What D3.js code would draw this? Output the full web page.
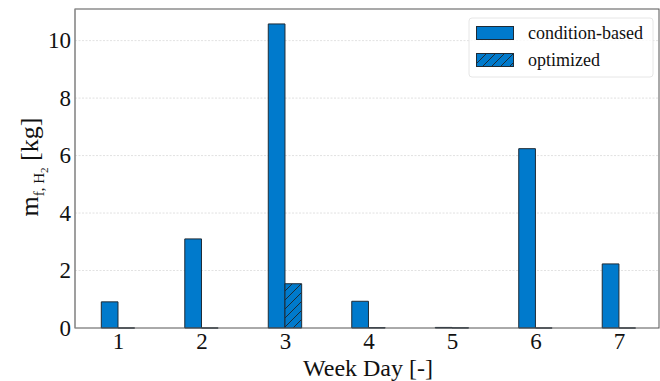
<!DOCTYPE html>
<html>
<head>
<meta charset="utf-8">
<script src="https://cdn.jsdelivr.net/npm/d3@7"></script>
<style>
  body { margin: 0; background: #fff; }
  svg text { font-family: "Liberation Serif", "Times New Roman", "DejaVu Serif", serif; }
</style>
</head>
<body>
<svg id="chart" width="660" height="381"></svg>
<script>
// data
const days = [1, 2, 3, 4, 5, 6, 7];
const conditionBased = [0.91, 3.1, 10.58, 0.93, 0.02, 6.24, 2.23];
const optimized = [0, 0, 1.54, 0.01, 0.005, 0, 0];
const yTicks = [0, 2, 4, 6, 8, 10];
const seriesNames = ["condition-based", "optimized"];

const M = { left: 75, right: 659, top: 9, bottom: 328 };
const BLUE = "#007acc", EDGE = "#1e2b36";
const barW = 0.2;

const svg = d3.select("#chart");

const defs = svg.append("defs");
const pat = defs.append("pattern").attr("id", "hatch").attr("patternUnits", "userSpaceOnUse")
    .attr("width", 9).attr("height", 9);
pat.append("rect").attr("width", 9).attr("height", 9).attr("fill", BLUE);
pat.append("path").attr("d", "M0,9 L9,0 M-2.25,2.25 L2.25,-2.25 M6.75,11.25 L11.25,6.75")
    .attr("stroke", EDGE).attr("stroke-width", 1);

const x = d3.scaleLinear().domain([0.485, 7.48]).range([M.left, M.right]);
const y = d3.scaleLinear().domain([0, 11.1]).range([M.bottom, M.top]);

// grid
svg.append("g").selectAll("line").data(yTicks.slice(1)).join("line")
    .attr("x1", M.left).attr("x2", M.right)
    .attr("y1", d => y(d)).attr("y2", d => y(d))
    .attr("stroke", "#d9d9d9").attr("stroke-width", 0.8).attr("stroke-dasharray", "2,1.5");

function barPath(x0, x1, v) {
    const a = x(x0), b = x(x1), t = y(v), z = y(0);
    return `M${a},${z}L${a},${t}L${b},${t}L${b},${z}Z`;
}

svg.append("g").selectAll("path").data(days).join("path")
    .attr("d", (d, i) => barPath(d - barW, d, conditionBased[i]))
    .attr("fill", BLUE).attr("stroke", EDGE).attr("stroke-width", 1);

svg.append("g").selectAll("path").data(days).join("path")
    .attr("d", (d, i) => barPath(d, d + barW, optimized[i]))
    .attr("fill", "url(#hatch)").attr("stroke", EDGE).attr("stroke-width", 1);

// frame
svg.append("rect").attr("x", M.left).attr("y", M.top)
    .attr("width", M.right - M.left).attr("height", M.bottom - M.top)
    .attr("fill", "none").attr("stroke", "#555").attr("stroke-width", 1);
svg.append("line").attr("x1", M.left).attr("x2", M.left).attr("y1", M.top).attr("y2", M.bottom)
    .attr("stroke", "#999").attr("stroke-width", 1.2);

// axes
const xAxis = svg.append("g").attr("transform", `translate(0,${M.bottom})`)
    .call(d3.axisBottom(x).tickValues(days).tickSize(0).tickPadding(5).tickFormat(d3.format("d")));
xAxis.select(".domain").remove();
xAxis.selectAll("text").attr("font-size", 23).attr("fill", "#111");

const yAxis = svg.append("g").attr("transform", `translate(${M.left},0)`)
    .call(d3.axisLeft(y).tickValues(yTicks).tickSize(0).tickPadding(4).tickFormat(d3.format("d")));
yAxis.select(".domain").remove();
yAxis.selectAll("text").attr("font-size", 23).attr("fill", "#111");
xAxis.attr("font-family", null); yAxis.attr("font-family", null);

svg.append("text").attr("x", 368).attr("y", 376)
    .attr("text-anchor", "middle").attr("font-size", 24).attr("fill", "#111")
    .text("Week Day [-]");

const yl = svg.append("text").attr("transform", "translate(38,167) rotate(-90)")
    .attr("text-anchor", "middle").attr("font-size", 26).attr("fill", "#111");
yl.append("tspan").text("m");
yl.append("tspan").attr("font-size", 15).attr("dy", 6).text("f, H");
yl.append("tspan").attr("font-size", 11).attr("dy", 4).text("2");
yl.append("tspan").attr("dy", -10).text(" [kg]");

// legend
const lg = svg.append("g");
lg.append("rect").attr("x", 469).attr("y", 18).attr("width", 184).attr("height", 59).attr("rx", 3)
    .attr("fill", "#fff").attr("fill-opacity", 0.8).attr("stroke", "#e6e6e6");
seriesNames.forEach((name, i) => {
    lg.append("rect").attr("x", 476.5).attr("y", 26.5 + i * 27).attr("width", 37).attr("height", 13)
        .attr("fill", i ? "url(#hatch)" : BLUE).attr("stroke", EDGE).attr("stroke-width", 1);
    lg.append("text").attr("x", 528).attr("y", 39 + i * 27).attr("font-size", 18).attr("fill", "#111")
        .text(name);
});
</script>
</body>
</html>
